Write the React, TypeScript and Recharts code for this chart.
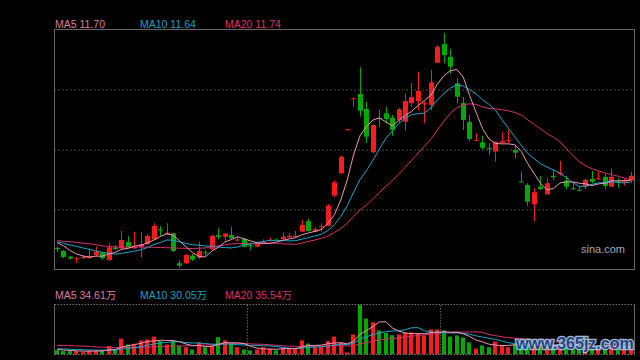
import React from 'react';
import { ComposedChart, Bar, Line, XAxis, YAxis, ReferenceLine } from 'recharts';

// ---- price data ----
const opens = [
  8.54, 8.40, 8.13, 8.04, 8.06, 8.07, 8.21, 8.32, 7.98, 8.57,
  8.52, 8.82, 8.52, 8.60, 8.72, 8.94, 9.40, 9.19, 9.22, 7.83,
  7.83, 8.18, 8.09, 8.33, 8.49, 9.14, 9.06, 9.14, 8.89, 8.96,
  8.66, 8.60, 8.78, 8.86, 8.93, 8.94, 9.03, 9.05, 9.30, 9.79,
  9.30, 9.51, 9.57, 10.97, 12.01, 14.05, 15.49, 15.70, 15.00, 12.99,
  14.58, 14.80, 14.60, 14.49, 14.41, 15.27, 15.37, 15.25, 15.19, 17.15,
  18.02, 17.43, 16.20, 15.28, 14.40, 13.54, 13.45, 13.19, 13.02, 13.43,
  13.54, 13.10, 11.63, 11.47, 10.57, 11.39, 11.03, 11.90, 11.99, 11.67,
  11.31, 11.25, 11.39, 11.75, 11.76, 11.85, 11.39, 11.67, 11.64, 11.67,
];
const closes = [
  8.49, 8.12, 8.05, 8.06, 8.13, 8.17, 8.37, 8.06, 8.57, 8.49,
  8.91, 8.57, 8.60, 8.72, 9.10, 9.56, 9.35, 9.25, 8.40, 7.72,
  8.21, 8.00, 8.40, 8.29, 9.10, 9.06, 9.21, 8.99, 8.93, 8.60,
  8.63, 8.76, 8.83, 8.91, 8.90, 9.06, 9.10, 9.11, 9.61, 9.33,
  9.41, 9.55, 10.50, 11.59, 12.78, 14.06, 15.50, 14.92, 13.71, 14.26,
  14.55, 14.54, 14.03, 14.99, 15.37, 15.55, 15.84, 15.27, 16.24, 17.90,
  17.51, 16.97, 15.57, 14.49, 13.61, 13.57, 13.20, 13.16, 13.48, 13.51,
  13.57, 12.97, 11.62, 10.69, 11.13, 11.28, 11.55, 11.83, 12.02, 11.39,
  11.27, 11.23, 11.70, 11.62, 11.78, 11.42, 11.85, 11.64, 11.66, 11.90,
];
const highs = [
  8.61, 8.44, 8.17, 8.12, 8.17, 8.52, 8.60, 8.35, 8.77, 8.68,
  9.33, 9.10, 9.30, 9.27, 9.19, 9.69, 9.56, 9.69, 9.26, 7.98,
  8.26, 8.26, 8.83, 8.44, 9.14, 9.45, 9.23, 9.53, 9.06, 9.02,
  8.78, 8.77, 8.94, 9.02, 8.98, 9.25, 9.22, 9.33, 9.84, 9.89,
  9.50, 9.69, 10.58, 11.68, 12.83, 14.06, 15.50, 16.94, 15.34, 14.28,
  14.95, 15.11, 14.72, 15.05, 15.73, 16.20, 16.74, 15.37, 16.82, 17.98,
  18.52, 17.78, 16.43, 15.56, 14.72, 13.87, 13.75, 13.41, 13.50, 13.92,
  14.03, 13.33, 12.09, 11.55, 11.31, 11.90, 11.78, 12.20, 12.58, 11.89,
  11.55, 11.39, 11.78, 12.12, 12.09, 11.98, 12.24, 11.78, 11.75, 12.09,
];
const lows = [
  8.35, 8.07, 8.00, 7.85, 8.04, 8.05, 8.17, 7.98, 7.93, 8.44,
  8.49, 8.54, 8.48, 8.11, 8.68, 8.91, 9.10, 9.14, 8.35, 7.62,
  7.79, 7.93, 8.03, 8.17, 8.47, 8.94, 8.83, 8.96, 8.83, 8.57,
  8.44, 8.57, 8.77, 8.84, 8.86, 8.92, 9.02, 9.03, 9.28, 9.31,
  9.28, 9.30, 9.56, 10.90, 11.99, 14.05, 15.11, 14.64, 13.43, 12.94,
  14.18, 14.34, 13.75, 14.34, 13.99, 15.11, 14.95, 14.34, 14.95, 17.14,
  17.13, 16.63, 15.27, 14.03, 13.51, 13.51, 13.10, 12.86, 12.55, 13.42,
  13.41, 12.71, 11.62, 10.49, 9.79, 11.24, 11.00, 11.70, 11.90, 11.27,
  11.25, 11.16, 11.27, 11.55, 11.70, 11.28, 11.37, 11.34, 11.44, 11.55,
];
const ma5 = [
  8.78, 8.63, 8.42, 8.26, 8.17, 8.11, 8.16, 8.16, 8.26, 8.33,
  8.48, 8.52, 8.63, 8.66, 8.78, 8.91, 9.07, 9.20, 9.13, 8.86,
  8.59, 8.32, 8.15, 8.12, 8.40, 8.57, 8.81, 8.93, 9.06, 8.96,
  8.87, 8.78, 8.75, 8.75, 8.81, 8.89, 8.96, 9.02, 9.16, 9.24,
  9.31, 9.40, 9.68, 10.08, 10.77, 11.70, 12.89, 13.77, 14.19, 14.49,
  14.59, 14.40, 14.22, 14.47, 14.70, 14.90, 15.16, 15.40, 15.65, 16.16,
  16.55, 16.78, 16.84, 16.49, 15.63, 14.84, 14.09, 13.61, 13.40, 13.38,
  13.38, 13.34, 13.03, 12.47, 12.00, 11.54, 11.25, 11.30, 11.56, 11.61,
  11.61, 11.55, 11.52, 11.44, 11.52, 11.55, 11.67, 11.66, 11.67, 11.69,
];
const ma10 = [
  8.83, 8.76, 8.68, 8.61, 8.54, 8.47, 8.40, 8.34, 8.29, 8.25,
  8.29, 8.34, 8.39, 8.46, 8.56, 8.70, 8.79, 8.91, 8.90, 8.82,
  8.75, 8.69, 8.67, 8.63, 8.63, 8.58, 8.56, 8.54, 8.59, 8.68,
  8.72, 8.80, 8.84, 8.90, 8.88, 8.88, 8.87, 8.88, 8.95, 9.02,
  9.10, 9.18, 9.35, 9.62, 10.00, 10.50, 11.14, 11.73, 12.14, 12.63,
  13.14, 13.64, 13.99, 14.33, 14.59, 14.74, 14.78, 14.81, 15.06, 15.43,
  15.72, 15.97, 16.12, 16.07, 15.90, 15.70, 15.43, 15.22, 14.95, 14.51,
  14.11, 13.71, 13.32, 12.94, 12.69, 12.46, 12.30, 12.16, 12.02, 11.81,
  11.58, 11.40, 11.41, 11.50, 11.57, 11.58, 11.61, 11.59, 11.56, 11.61,
];
const ma20 = [
  8.88, 8.85, 8.83, 8.80, 8.77, 8.73, 8.69, 8.64, 8.61, 8.59,
  8.58, 8.58, 8.58, 8.58, 8.58, 8.57, 8.56, 8.55, 8.54, 8.53,
  8.52, 8.51, 8.53, 8.54, 8.59, 8.64, 8.68, 8.73, 8.74, 8.75,
  8.73, 8.74, 8.76, 8.77, 8.76, 8.73, 8.72, 8.71, 8.77, 8.85,
  8.91, 8.99, 9.09, 9.26, 9.44, 9.69, 10.01, 10.30, 10.54, 10.83,
  11.12, 11.41, 11.67, 11.98, 12.30, 12.62, 12.96, 13.27, 13.60, 14.03,
  14.43, 14.80, 15.06, 15.20, 15.24, 15.22, 15.10, 15.02, 15.01, 14.97,
  14.92, 14.84, 14.72, 14.50, 14.29, 14.08, 13.86, 13.69, 13.48, 13.16,
  12.84, 12.56, 12.36, 12.22, 12.13, 12.02, 11.95, 11.88, 11.79, 11.71,
];

// ---- volume data (万) ----
const volumes = [
  19, 15, 15, 15, 10, 18, 18, 18, 37, 22,
  70, 44, 47, 62, 66, 79, 59, 44, 59, 37,
  32, 22, 51, 32, 40, 76, 62, 47, 32, 22,
  18, 22, 32, 25, 18, 29, 29, 29, 62, 48,
  32, 35, 59, 79, 53, 9, 88, 220, 158, 142,
  106, 95, 85, 88, 97, 97, 92, 84, 110, 110,
  106, 79, 84, 75, 53, 26, 40, 32, 57, 41,
  32, 48, 45, 40, 45, 35, 45, 38, 40, 33,
  25, 22, 35, 30, 26, 38, 40, 30, 28, 36,
];
const volMa5 = [
  22, 20, 18, 16, 14.8, 14.6, 15.2, 15.8, 20.2, 22.6,
  33, 38.2, 44, 49, 57.8, 59.6, 62.6, 62, 61.4, 55.6,
  46.2, 38.8, 40.2, 34.8, 35.4, 44.2, 52.2, 51.4, 51.4, 47.8,
  36.2, 28.2, 25.2, 23.8, 23, 25.2, 26.6, 26, 33.4, 39.4,
  40, 41.2, 47.2, 50.6, 51.6, 47, 57.6, 89.8, 105.6, 123.4,
  142.8, 144.2, 117.2, 103.2, 94.2, 92.4, 91.8, 91.6, 96, 98.6,
  100.4, 97.8, 97.8, 90.8, 79.4, 63.4, 55.6, 45.2, 41.6, 39.2,
  40.4, 42, 44.6, 41.2, 42, 42.6, 42, 40.6, 40.6, 38.2,
  36.2, 31.6, 31, 29, 27.6, 30.2, 33.8, 32.8, 32.4, 34.4,
];
const volMa10 = [
  25, 24, 23, 22, 21, 20, 19.5, 19, 18.8, 18.7,
  23.8, 26.7, 29.9, 34.6, 40.2, 46.3, 50.4, 53, 55.2, 56.7,
  52.9, 50.7, 51.1, 48.1, 45.5, 45.2, 45.5, 45.8, 43.1, 41.6,
  40.2, 40.2, 38.3, 37.6, 35.4, 30.7, 27.4, 25.6, 28.6, 31.2,
  32.6, 33.9, 36.6, 42, 45.5, 43.5, 49.4, 68.5, 78.1, 87.5,
  94.9, 100.9, 103.5, 104.4, 108.8, 117.6, 118, 104.4, 99.6, 96.4,
  96.4, 94.8, 94.7, 93.4, 89, 81.9, 76.7, 71.5, 66.2, 59.3,
  51.9, 48.8, 44.9, 41.4, 40.6, 41.5, 42, 42.6, 40.9, 40.1,
  39.4, 36.8, 35.8, 34.8, 32.9, 33.2, 32.7, 31.9, 30.7, 31,
];
const volMa20 = [
  40, 39.5, 39, 38, 37, 35, 33.5, 32, 31, 30,
  30, 30.5, 31, 32, 33, 34, 35, 36, 37, 37.7,
  38.4, 38.7, 40.5, 41.4, 42.9, 45.8, 48, 49.4, 49.2, 49.2,
  46.6, 45.5, 44.7, 42.9, 40.5, 38, 36.5, 35.7, 35.9, 36.4,
  36.4, 37.1, 37.5, 39.8, 40.5, 37.1, 38.4, 47.1, 53.4, 59.4,
  63.8, 67.4, 70.1, 73.2, 77.2, 80.6, 83.7, 86.5, 88.9, 92,
  95.7, 97.9, 99.1, 98.9, 98.9, 99.8, 97.4, 88, 82.9, 77.9,
  74.2, 71.8, 69.8, 67.4, 64.8, 61.7, 59.4, 57.1, 53.6, 49.7,
  45.7, 42.8, 40.4, 38.1, 36.8, 37.4, 37.4, 37.3, 35.8, 35.6,
];

// ---- texts / axes ----
const priceMaLabels = ['MA5 11.70', 'MA10 11.64', 'MA20 11.74'];
const volMaLabels = ['MA5 34.61万', 'MA10 30.05万', 'MA20 35.54万'];
const monthStarts = [30, 60];
const priceDomain = [7.515, 18.675];
const volDomain = [0, 220];

// ---- styles ----
const RED = '#fa1c1c';
const GREEN = '#00a800';
const MA5_LINE = '#eb98b8';
const MA10_LINE = '#1aa6c8';
const MA20_LINE = '#d8306c';
const MA_TEXT = ['#de7c9c', '#1aa0c0', '#d8336a'];
const LABEL_X = [55, 140, 225];
const FONT = "'Liberation Sans', Arial, 'Noto Sans CJK SC', sans-serif";

const rows = closes.map((c, i) => ({
  idx: i,
  open: opens[i],
  high: highs[i],
  low: lows[i],
  close: c,
  range: [lows[i], highs[i]],
  vol: volumes[i],
  ma5: ma5[i],
  ma10: ma10[i],
  ma20: ma20[i],
  vma5: volMa5[i],
  vma10: volMa10[i],
  vma20: volMa20[i],
}));

const gridValues = [1, 2, 3].map(
  (k) => priceDomain[0] + ((priceDomain[1] - priceDomain[0]) * k) / 4
);

const isUp = (d: any) => d.close >= d.open;

function Candle(props: any) {
  const { x, y, width, height, payload } = props;
  if (x == null || !payload) return null;
  const top = Math.min(y, y + height);
  const h = Math.abs(height);
  const span = payload.high - payload.low;
  const py = (v: number) => (span > 0 ? top + ((payload.high - v) / span) * h : top);
  const color = isUp(payload) ? RED : GREEN;
  const c = Math.round(x + width / 2 - 0.5) + 0.5;
  const bTop = py(Math.max(payload.open, payload.close));
  const bBot = py(Math.min(payload.open, payload.close));
  return (
    <g>
      <line x1={c} x2={c} y1={top} y2={top + Math.max(h, 1)} stroke={color} strokeWidth={1} />
      <rect x={c - 2.5} y={bTop} width={5} height={Math.max(1, bBot - bTop)} fill={color} />
    </g>
  );
}

function VolBar(props: any) {
  const { x, y, width, height, payload } = props;
  if (x == null || !payload) return null;
  const top = Math.min(y, y + height);
  const h = Math.abs(height);
  const left = Math.round(x + width / 2 - 2);
  return <rect x={left} y={top} width={4} height={h} fill={isUp(payload) ? RED : GREEN} />;
}

export default function App() {
  return (
    <div
      style={{
        position: 'fixed',
        left: 0,
        top: 0,
        width: 640,
        height: 360,
        background: '#000',
        overflow: 'hidden',
        fontFamily: FONT,
      }}
    >
      <div style={{ position: 'absolute', left: 0, top: 0 }}>
        <ComposedChart
          width={640}
          height={280}
          data={rows}
          margin={{ top: 30, right: 6, bottom: 10, left: 54 }}
        >
          <XAxis dataKey="idx" type="category" hide />
          <YAxis type="number" domain={priceDomain} allowDataOverflow hide />
          {gridValues.map((v) => (
            <ReferenceLine key={v} y={v} stroke="#4a4a4a" strokeDasharray="2 2" />
          ))}
          <Bar dataKey="range" barSize={5} shape={Candle} isAnimationActive={false} />
          <Line type="linear" dataKey="ma20" stroke={MA20_LINE} strokeWidth={1} dot={false} activeDot={false} isAnimationActive={false} />
          <Line type="linear" dataKey="ma10" stroke={MA10_LINE} strokeWidth={1} dot={false} activeDot={false} isAnimationActive={false} />
          <Line type="linear" dataKey="ma5" stroke={MA5_LINE} strokeWidth={1} dot={false} activeDot={false} isAnimationActive={false} />
        </ComposedChart>
      </div>
      <div style={{ position: 'absolute', left: 0, top: 280 }}>
        <ComposedChart
          width={640}
          height={80}
          data={rows}
          margin={{ top: 24.5, right: 6, bottom: 5.5, left: 54 }}
        >
          <XAxis dataKey="idx" type="category" hide />
          <YAxis type="number" domain={volDomain} allowDataOverflow hide />
          {monthStarts.map((m) => (
            <ReferenceLine key={m} x={m} position="start" stroke="#6a6a6a" strokeDasharray="1.5 1.5" />
          ))}
          <Bar dataKey="vol" barSize={4} shape={VolBar} isAnimationActive={false} />
          <Line type="linear" dataKey="vma20" stroke={MA20_LINE} strokeWidth={1} dot={false} activeDot={false} isAnimationActive={false} />
          <Line type="linear" dataKey="vma10" stroke={MA10_LINE} strokeWidth={1} dot={false} activeDot={false} isAnimationActive={false} />
          <Line type="linear" dataKey="vma5" stroke={MA5_LINE} strokeWidth={1} dot={false} activeDot={false} isAnimationActive={false} />
        </ComposedChart>
      </div>
      <svg
        width={640}
        height={360}
        style={{ position: 'absolute', left: 0, top: 0, pointerEvents: 'none' }}
      >
        <rect x={54.5} y={29.5} width={580} height={240} fill="none" stroke="#666" strokeWidth={1} />
        <line x1={54.5} x2={54.5} y1={304.5} y2={354.5} stroke="#666" />
        <line x1={634.5} x2={634.5} y1={304.5} y2={354.5} stroke="#666" />
        <line x1={54.5} x2={634.5} y1={304.5} y2={304.5} stroke="#777" strokeDasharray="1.5 1.5" />
        <line x1={54.5} x2={634.5} y1={354.5} y2={354.5} stroke="#777" strokeDasharray="1.5 1.5" />
        {priceMaLabels.map((t, i) => (
          <text key={t} x={LABEL_X[i]} y={28} fill={MA_TEXT[i]} fontSize={10.5} fontFamily={FONT}>
            {t}
          </text>
        ))}
        {volMaLabels.map((t, i) => (
          <text key={t} x={LABEL_X[i]} y={299} fill={MA_TEXT[i]} fontSize={10.5} fontFamily={FONT}>
            {t}
          </text>
        ))}
        <text x={581} y={253} fill="#a8a8a8" fontSize={11} fontFamily={FONT}>
          sina.com
        </text>
        <text
          x={516}
          y={348.5}
          fill="#1e4a8c"
          stroke="#b8cae4"
          strokeWidth={2.5}
          paintOrder="stroke"
          fontSize={16}
          fontWeight="bold"
          fontFamily={FONT}
          opacity={0.9}
        >
          www.365jz.com
        </text>
      </svg>
    </div>
  );
}
